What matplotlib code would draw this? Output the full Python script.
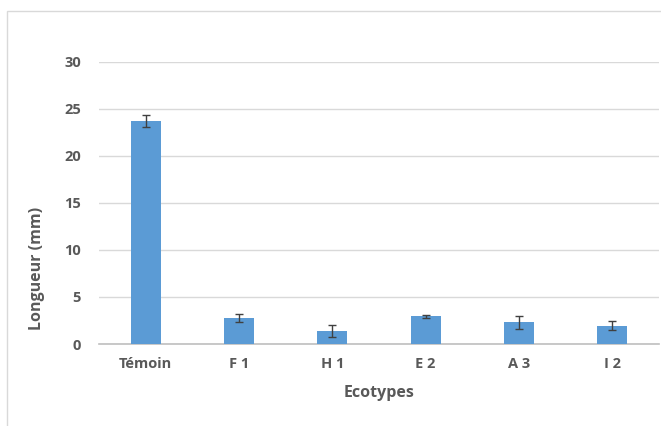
import matplotlib
matplotlib.use("Agg")
import matplotlib.pyplot as plt
from matplotlib.patches import Rectangle

categories = ["Témoin", "F 1", "H 1", "E 2", "A 3", "I 2"]
values = [23.7, 2.75, 1.35, 2.95, 2.3, 1.95]
errors = [0.65, 0.45, 0.65, 0.15, 0.7, 0.45]
yticks = [0, 5, 10, 15, 20, 25, 30]

plt.rcParams['font.family'] = ['Open Sans', 'DejaVu Sans']
text_color = "#595959"

fig = plt.figure(figsize=(6.61, 4.26), dpi=100)
fig.patches.append(Rectangle((7/661, -0.1), 1.0, 1 - 11/426 + 0.1, transform=fig.transFigure,
                             fill=False, edgecolor="#D9D9D9", linewidth=1.0))
ax = fig.add_axes([99/661, 1 - 344/426, 560/661, (344 - 61.7)/426])

x = range(len(categories))
ax.bar(x, values, width=0.32, color="#5B9BD5", zorder=3)
ax.errorbar(x, values, yerr=errors, fmt="none", ecolor="#404040", elinewidth=1.0,
            capsize=3, capthick=1.0, zorder=4)

ax.set_xlim(-0.5, len(categories) - 0.5)
ax.set_ylim(0, 30)
ax.set_yticks(yticks)
ax.set_xticks(list(x))
ax.set_xticklabels(categories)
ax.yaxis.grid(True, color="#D9D9D9", linewidth=1.0, zorder=0)
ax.set_axisbelow(True)
for s in ["top", "right", "left"]:
    ax.spines[s].set_visible(False)
ax.spines["bottom"].set_color("#BFBFBF")
ax.spines["bottom"].set_linewidth(1.2)
ax.tick_params(axis="both", length=0, colors=text_color, labelsize=10.5)
ax.tick_params(axis="y", pad=13)
ax.tick_params(axis="x", pad=9)
for lab in ax.get_xticklabels() + ax.get_yticklabels():
    lab.set_fontweight("bold")

fig.text(379/661, 1 - 393/426, "Ecotypes", ha="center", va="center",
         fontsize=11.5, fontweight="bold", color=text_color)
fig.text(37/661, 1 - 268/426, "Longueur (mm)", ha="center", va="center", rotation=90,
         fontsize=11.5, fontweight="bold", color=text_color)

fig.savefig("out.png", dpi=100)
